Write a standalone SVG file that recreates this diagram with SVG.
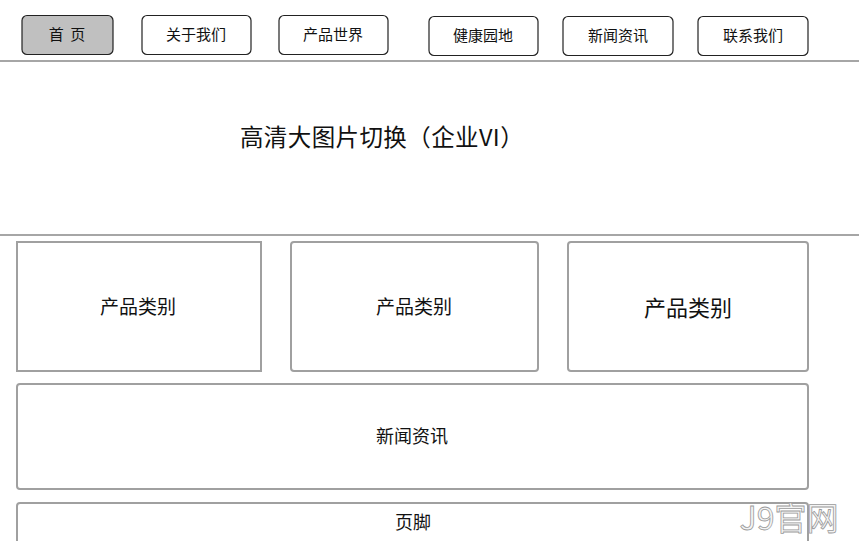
<svg xmlns="http://www.w3.org/2000/svg" width="859" height="541" viewBox="0 0 859 541">
<style>
.nav{fill:#fff;stroke:#222;stroke-width:1.2}
.box{fill:#fff;stroke:#a0a0a0;stroke-width:2}
.sep{stroke:#a6a6a6;stroke-width:2}
text{font-family:"Microsoft YaHei","Noto Sans CJK SC",sans-serif;fill:#111;text-anchor:middle;dominant-baseline:central}
.n{font-size:15px}
</style>
<rect width="859" height="541" fill="#fff"/>
<g id="nav-home"><rect x="22" y="15.5" width="91" height="39" rx="5" class="nav" style="fill:#c0c0c0"/><text x="67" y="33.5" class="n" xml:space="preserve">首  页</text></g>
<g id="nav-about"><rect x="142" y="15.5" width="109" height="39" rx="5" class="nav"/><text x="196" y="33.5" class="n">关于我们</text></g>
<g id="nav-product"><rect x="279" y="15.5" width="109" height="39" rx="5" class="nav"/><text x="333" y="33.5" class="n">产品世界</text></g>
<g id="nav-health"><rect x="429" y="16.5" width="109" height="39" rx="5" class="nav"/><text x="483" y="34.5" class="n">健康园地</text></g>
<g id="nav-news"><rect x="563" y="16.5" width="110" height="39" rx="5" class="nav"/><text x="618" y="34.5" class="n">新闻资讯</text></g>
<g id="nav-contact"><rect x="698" y="16.5" width="110" height="39" rx="5" class="nav"/><text x="753" y="34.5" class="n">联系我们</text></g>
<line x1="0" y1="61" x2="859" y2="61" class="sep"/>
<g id="banner"><text x="382" y="136" style="font-size:23.5px;letter-spacing:0.4px">高清大图片切换（企业VI）</text></g>
<line x1="0" y1="235" x2="859" y2="235" class="sep"/>
<g id="cat1"><rect x="17" y="242" width="244" height="129" class="box"/><text x="138" y="305" style="font-size:19px">产品类别</text></g>
<g id="cat2"><rect x="291" y="242" width="247" height="129" rx="3" class="box"/><text x="414" y="305" style="font-size:19px">产品类别</text></g>
<g id="cat3"><rect x="568" y="242" width="240" height="129" rx="3" class="box"/><text x="688" y="306" style="font-size:22px">产品类别</text></g>
<g id="news"><rect x="17" y="384" width="791" height="105" rx="3" class="box"/><text x="412" y="435" style="font-size:18px">新闻资讯</text></g>
<g id="footer"><rect x="17" y="503" width="791" height="50" rx="3" class="box"/><text x="413" y="521" style="font-size:18px">页脚</text></g>
<text x="789" y="516" style="font-size:32px;fill:#f4f4f4;stroke:#9a9a9a;stroke-width:0.8">J9官网</text>
</svg>
